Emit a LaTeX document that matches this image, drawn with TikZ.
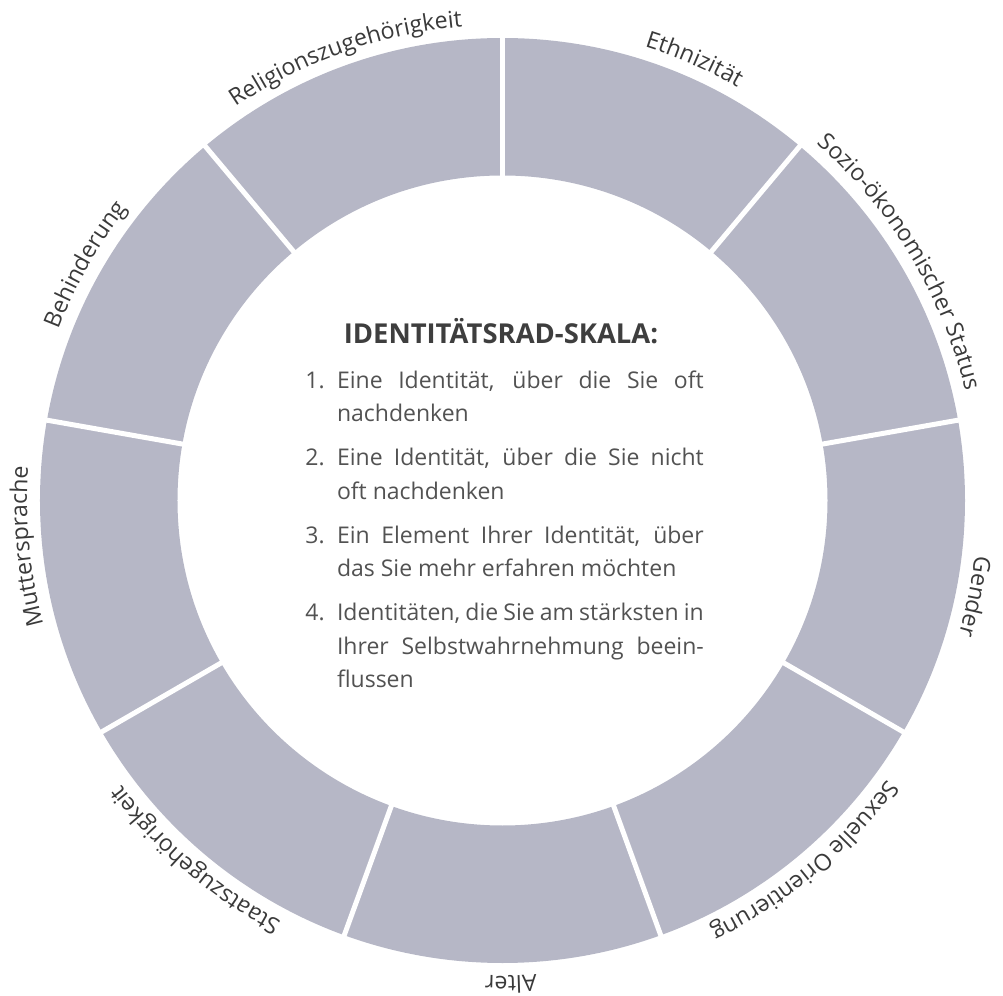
\documentclass[tikz,border=0pt]{standalone}
\usepackage{fontspec}
\setmainfont{Open Sans}
\usetikzlibrary{decorations.text}

% one drawing unit
\newlength\px
\setlength\px{0.02cm}

\definecolor{ringfill}{RGB}{182,183,198}
\definecolor{labelgray}{RGB}{58,58,58}
\definecolor{titlegray}{RGB}{62,62,62}
\definecolor{bodygray}{RGB}{82,82,82}

\newcommand\lblfont{\fontsize{13.2pt}{16pt}\selectfont}
\newcommand\titlefont{\bfseries\fontsize{15.6pt}{18pt}\selectfont}
\newcommand\bodyfont{\fontsize{13.09pt}{18.97pt}\selectfont}

% hanging item number
\newcommand\itemno[1]{\leavevmode\llap{\makebox[31.7\px][l]{#1}}}

% text set along the outer rim, running clockwise, centred on angle #1
\newcommand\ringlabel[2]{%
  \path[decorate, decoration={text along path, text align=center,
        text color=labelgray, text={|\lblfont|#2}}]
    ({#1+45}:475.5) arc[start angle={#1+45}, end angle={#1-45}, radius=475.5];}

\begin{document}
\begin{tikzpicture}[x=1\px, y=1\px]
  \useasboundingbox (-502.5,-495.5) rectangle (500.5,500.5);

  % the wheel: one ring cut into nine equal sectors
  \fill[ringfill, even odd rule] (0,0) circle[radius=462.5] (0,0) circle[radius=325];
  \foreach \a in {10,50,...,330}
    \draw[white, line width=5\px] (\a:318) -- (\a:470);

  % sector names
  \ringlabel{109.5}{Religionszugehörigkeit}
  \ringlabel{66.5}{Ethnizität}
  \ringlabel{31}{Sozio-ökonomischer Status}
  \ringlabel{-11.5}{Gender}
  \ringlabel{-50}{Sexuelle Orientierung}
  \ringlabel{-89}{Alter}
  \ringlabel{-130.5}{Staatszugehörigkeit}
  \ringlabel{185.5}{Muttersprache}
  \ringlabel{150.5}{Behinderung}

  % scale in the middle
  \node[anchor=base, inner sep=0, font=\titlefont, text=titlegray] (title) at (-1.5,157.2)
    {IDENTITÄTSRAD-SKALA:};

  \node[anchor=base west, inner sep=0, text width=366.7\px, align=justify,
        font=\bodyfont, text=bodygray] (scale) at (-165.8,112.2) {%
    \setlength\parskip{6.2pt}\hyphenpenalty=10000 \tolerance=10000
    \itemno{1.}Eine Identität, über die Sie oft\linebreak nachdenken\par
    \itemno{2.}Eine Identität, über die Sie nicht\linebreak oft nachdenken\par
    \itemno{3.}Ein Element Ihrer Identität, über\linebreak das Sie mehr erfahren möchten\par
    \itemno{4.}Identitäten, die Sie am stärksten in\linebreak Ihrer Selbstwahrnehmung beein-\linebreak flussen\par};
\end{tikzpicture}
\end{document}
